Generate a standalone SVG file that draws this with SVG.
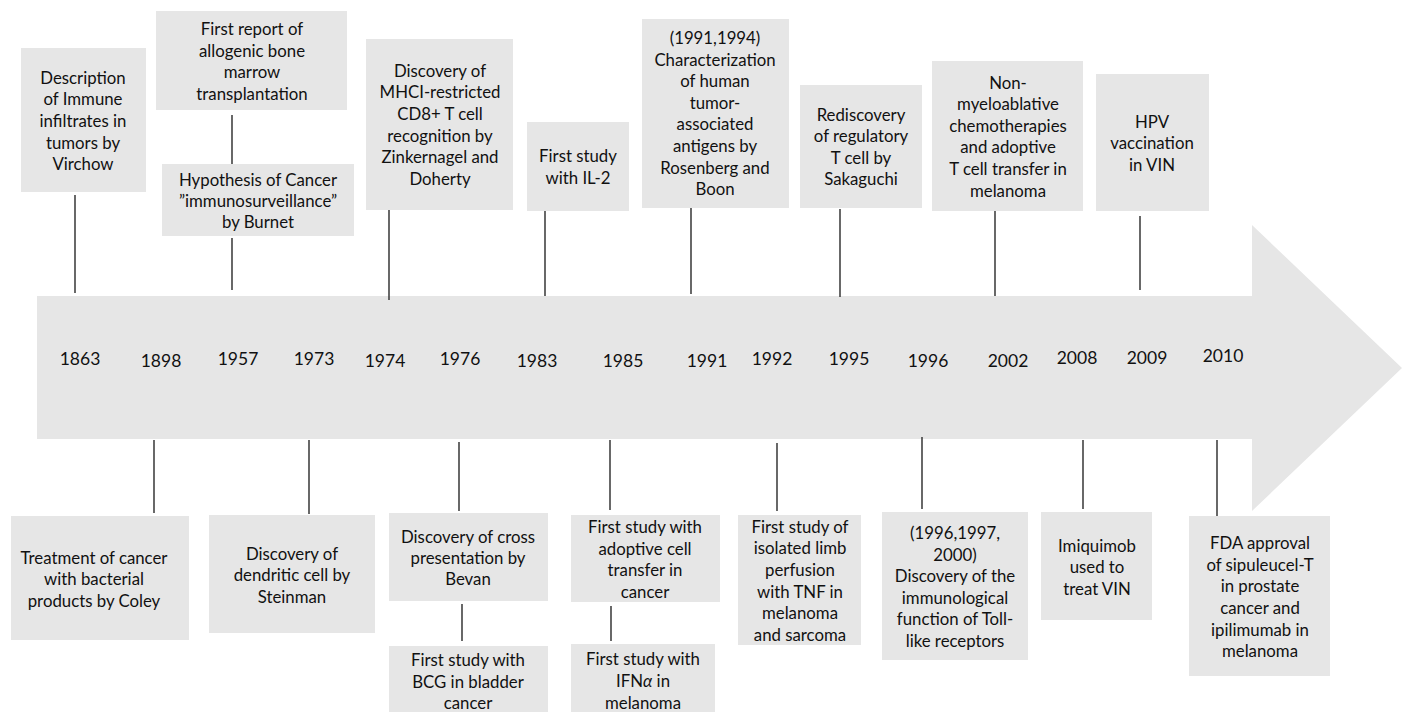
<svg xmlns="http://www.w3.org/2000/svg" width="1403" height="712" viewBox="0 0 1403 712">
<style>
.box{fill:#e6e6e6}
.t{font-family:Lato,"Liberation Sans",sans-serif;font-size:16.8px;fill:#111;text-anchor:middle}
.y{font-family:Lato,"Liberation Sans",sans-serif;font-size:17.5px;fill:#111;text-anchor:middle}
.c{stroke:#444;stroke-width:1.6;fill:none}
</style>
<rect width="1403" height="712" fill="#fff"/>
<g id="timeline-arrow">
<path d="M37,296 H1252 V225 L1402,368 L1252,511 V439 H37 Z" fill="#e6e6e6"/>
<text class="y" x="80" y="365">1863</text>
<text class="y" x="161" y="367">1898</text>
<text class="y" x="238" y="365">1957</text>
<text class="y" x="314" y="365">1973</text>
<text class="y" x="385" y="367">1974</text>
<text class="y" x="460" y="365">1976</text>
<text class="y" x="537" y="367">1983</text>
<text class="y" x="623" y="367">1985</text>
<text class="y" x="707" y="367">1991</text>
<text class="y" x="772" y="365">1992</text>
<text class="y" x="849" y="365">1995</text>
<text class="y" x="928" y="367">1996</text>
<text class="y" x="1008" y="367">2002</text>
<text class="y" x="1077" y="364">2008</text>
<text class="y" x="1147" y="364">2009</text>
<text class="y" x="1223" y="362">2010</text>
</g>
<g id="connectors">
<path class="c" d="M75,195V293M232,115V164M232,238V290M389,210V300M545,211V296M691,208V294M840,209V297M995,211V296M1140,216V290"/>
<path class="c" d="M154,440V513M309,440V514M459,442V511M462,604V641M610,440V510M611,606V641M777,443V511M922,437V509M1083,440V509M1217,440V516"/>
</g>
<g id="n1863">
<rect class="box" x="21" y="48" width="125" height="144"/>
<text class="t"><tspan x="83" y="84">Description</tspan><tspan x="83" y="105">of Immune</tspan><tspan x="83" y="127">infiltrates in</tspan><tspan x="83" y="149">tumors by</tspan><tspan x="83" y="170">Virchow</tspan></text>
</g>
<g id="n1957a">
<rect class="box" x="156" y="11" width="191" height="99"/>
<text class="t"><tspan x="252" y="35">First report of</tspan><tspan x="252" y="57">allogenic bone</tspan><tspan x="252" y="78">marrow</tspan><tspan x="252" y="100">transplantation</tspan></text>
</g>
<g id="n1957b">
<rect class="box" x="162" y="164" width="192" height="72"/>
<text class="t"><tspan x="258" y="186">Hypothesis of Cancer</tspan><tspan x="258" y="207">”immunosurveillance”</tspan><tspan x="258" y="228">by Burnet</tspan></text>
</g>
<g id="n1974">
<rect class="box" x="366" y="39" width="147" height="171"/>
<text class="t"><tspan x="440" y="77">Discovery of</tspan><tspan x="440" y="98">MHCI-restricted</tspan><tspan x="440" y="120">CD8+ T cell</tspan><tspan x="440" y="142">recognition by</tspan><tspan x="440" y="163">Zinkernagel and</tspan><tspan x="440" y="185">Doherty</tspan></text>
</g>
<g id="n1983">
<rect class="box" x="527" y="122" width="102" height="89"/>
<text class="t"><tspan x="578" y="162">First study</tspan><tspan x="578" y="184">with IL-2</tspan></text>
</g>
<g id="n1991">
<rect class="box" x="642" y="19" width="147" height="189"/>
<text class="t"><tspan x="715" y="44">(1991,1994)</tspan><tspan x="715" y="66">Characterization</tspan><tspan x="715" y="87">of human</tspan><tspan x="715" y="109">tumor-</tspan><tspan x="715" y="130">associated</tspan><tspan x="715" y="152">antigens by</tspan><tspan x="715" y="174">Rosenberg and</tspan><tspan x="715" y="195">Boon</tspan></text>
</g>
<g id="n1995">
<rect class="box" x="800" y="85" width="122" height="123"/>
<text class="t"><tspan x="861" y="121">Rediscovery</tspan><tspan x="861" y="142">of regulatory</tspan><tspan x="861" y="164">T cell by</tspan><tspan x="861" y="185">Sakaguchi</tspan></text>
</g>
<g id="n2002">
<rect class="box" x="932" y="61" width="151" height="150"/>
<text class="t"><tspan x="1008" y="89">Non-</tspan><tspan x="1008" y="110">myeloablative</tspan><tspan x="1008" y="132">chemotherapies</tspan><tspan x="1008" y="153">and adoptive</tspan><tspan x="1008" y="175">T cell transfer in</tspan><tspan x="1008" y="197">melanoma</tspan></text>
</g>
<g id="n2009">
<rect class="box" x="1096" y="74" width="113" height="137"/>
<text class="t"><tspan x="1152" y="128">HPV</tspan><tspan x="1152" y="149">vaccination</tspan><tspan x="1152" y="171">in VIN</tspan></text>
</g>
<g id="n1898">
<rect class="box" x="11" y="516" width="178" height="124"/>
<text class="t"><tspan x="94" y="564">Treatment of cancer</tspan><tspan x="94" y="585">with bacterial</tspan><tspan x="94" y="607">products by Coley</tspan></text>
</g>
<g id="n1973">
<rect class="box" x="209" y="515" width="166" height="118"/>
<text class="t"><tspan x="292" y="560">Discovery of</tspan><tspan x="292" y="581">dendritic cell by</tspan><tspan x="292" y="603">Steinman</tspan></text>
</g>
<g id="n1976a">
<rect class="box" x="389" y="513" width="159" height="88"/>
<text class="t"><tspan x="468" y="543">Discovery of cross</tspan><tspan x="468" y="564">presentation by</tspan><tspan x="468" y="585">Bevan</tspan></text>
</g>
<g id="n1976b">
<rect class="box" x="389" y="646" width="159" height="70"/>
<text class="t"><tspan x="468" y="666">First study with</tspan><tspan x="468" y="688">BCG in bladder</tspan><tspan x="468" y="709">cancer</tspan></text>
</g>
<g id="n1985a">
<rect class="box" x="571" y="515" width="149" height="87"/>
<text class="t"><tspan x="645" y="533">First study with</tspan><tspan x="645" y="555">adoptive cell</tspan><tspan x="645" y="576">transfer in</tspan><tspan x="645" y="598">cancer</tspan></text>
</g>
<g id="n1985b">
<rect class="box" x="571" y="644" width="144" height="72"/>
<text class="t"><tspan x="643" y="665">First study with</tspan><tspan x="643" y="687">IFN<tspan font-style="italic">α</tspan> in</tspan><tspan x="643" y="709">melanoma</tspan></text>
</g>
<g id="n1992">
<rect class="box" x="738" y="515" width="123" height="130"/>
<text class="t"><tspan x="800" y="533">First study of</tspan><tspan x="800" y="554">isolated limb</tspan><tspan x="800" y="576">perfusion</tspan><tspan x="800" y="598">with TNF in</tspan><tspan x="800" y="619">melanoma</tspan><tspan x="800" y="641">and sarcoma</tspan></text>
</g>
<g id="n1996">
<rect class="box" x="882" y="512" width="146" height="148"/>
<text class="t"><tspan x="955" y="539">(1996,1997,</tspan><tspan x="955" y="561">2000)</tspan><tspan x="955" y="582">Discovery of the</tspan><tspan x="955" y="604">immunological</tspan><tspan x="955" y="625">function of Toll-</tspan><tspan x="955" y="647">like receptors</tspan></text>
</g>
<g id="n2008">
<rect class="box" x="1041" y="512" width="111" height="108"/>
<text class="t"><tspan x="1097" y="552">Imiquimob</tspan><tspan x="1097" y="573">used to</tspan><tspan x="1097" y="595">treat VIN</tspan></text>
</g>
<g id="n2010">
<rect class="box" x="1189" y="516" width="141" height="160"/>
<text class="t"><tspan x="1260" y="549">FDA approval</tspan><tspan x="1260" y="571">of sipuleucel-T</tspan><tspan x="1260" y="592">in prostate</tspan><tspan x="1260" y="614">cancer and</tspan><tspan x="1260" y="636">ipilimumab in</tspan><tspan x="1260" y="657">melanoma</tspan></text>
</g>
</svg>
